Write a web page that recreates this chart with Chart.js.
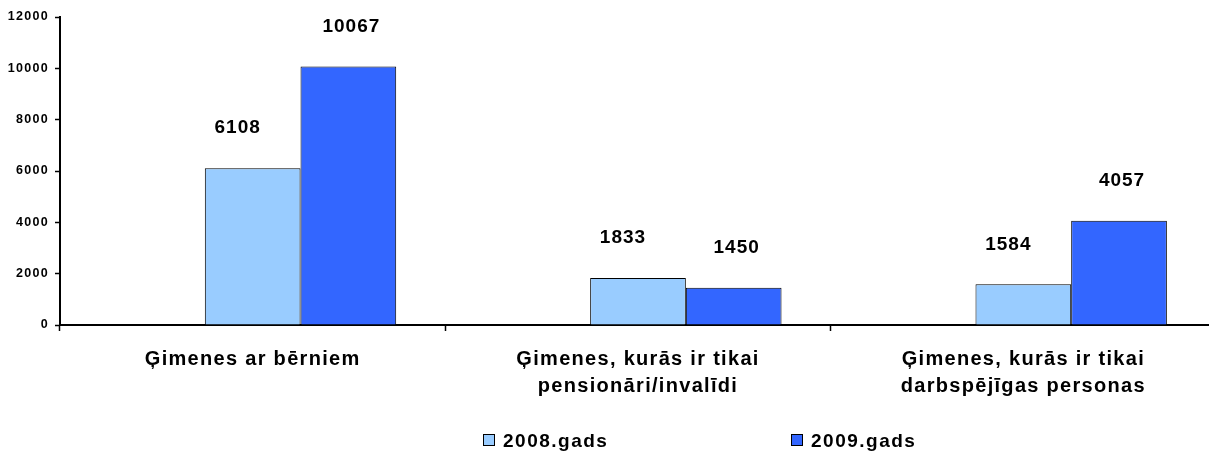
<!DOCTYPE html>
<html>
<head>
<meta charset="utf-8">
<script src="https://cdn.jsdelivr.net/npm/chart.js@4/dist/chart.umd.min.js"></script>
<style>
    html, body { margin: 0; padding: 0; background: #fff; overflow: hidden; }
    #wrap { position: absolute; left: 0; top: 0; width: 1222px; height: 454px; }
    .legend { position: absolute; top: 430px; font: bold 19px 'Liberation Sans', Arial, sans-serif; letter-spacing: 1.5px; color: #000; white-space: nowrap; }
    .legend span.box { display: inline-block; width: 10px; height: 10px; border: 1px solid #000; margin-right: 8px; vertical-align: 1px; }
</style>
</head>
<body>
<div id="wrap"><canvas id="chart"></canvas></div>
<div class="legend" style="left:483px"><span class="box" style="background:#99CCFF"></span>2008.gads</div>
<div class="legend" style="left:791px"><span class="box" style="background:#3366FF"></span>2009.gads</div>
<script>
// data dari gambar
const categories = [
    "Ģimenes ar bērniem",
    ["Ģimenes, kurās ir tikai", "pensionāri/invalīdi"],
    ["Ģimenes, kurās ir tikai", "darbspējīgas personas"],
];
const seriesNames = ["2008.gads", "2009.gads"];
const values2008 = [6108, 1833, 1584];
const values2009 = [10067, 1450, 4057];
const emptySlot = [null, null, null]; // Excel atstāj tukšu vietu pa kreisi
const yTicks = [0, 2000, 4000, 6000, 8000, 10000, 12000];

const SPACING = "1.3px";

// teksta atstarpes kā Excel attēlā
const spacingPlugin = {
    id: "spacing",
    beforeLayout(chart) { chart.ctx.letterSpacing = SPACING; },
    beforeDraw(chart) { chart.ctx.letterSpacing = SPACING; },
};

// vērtības virs stabiņiem
const valueLabels = {
    id: "valueLabels",
    afterDatasetsDraw(chart) {
        const ctx = chart.ctx;
        ctx.save();
        ctx.letterSpacing = "1px";
        ctx.font = "bold 19px 'Liberation Sans', Arial, sans-serif";
        ctx.fillStyle = "#000";
        ctx.textAlign = "center";
        ctx.textBaseline = "middle";
        chart.data.datasets.forEach((ds, i) => {
            if (!ds.showValues) return;
            chart.getDatasetMeta(i).data.forEach((bar, j) => {
                const v = ds.data[j];
                if (v == null) return;
                ctx.fillText(String(v), bar.x + ds.labelShift, bar.y - 40);
            });
        });
        ctx.restore();
    },
};

Chart.defaults.font.family = "'Liberation Sans', Arial, sans-serif";
Chart.defaults.color = "#000";

const ctx = document.getElementById("chart").getContext("2d");
new Chart(ctx, {
    type: "bar",
    data: {
        labels: categories,
        datasets: [
            { label: "", data: emptySlot, backgroundColor: "transparent" },
            {
                label: seriesNames[0],
                data: values2008,
                backgroundColor: "#99CCFF",
                borderColor: "#000",
                borderWidth: 1,
                showValues: true,
                labelShift: -15,
            },
            {
                label: seriesNames[1],
                data: values2009,
                backgroundColor: "#3366FF",
                borderColor: "#000",
                borderWidth: 1,
                showValues: true,
                labelShift: 3,
            },
        ],
    },
    options: {
        responsive: true,
        maintainAspectRatio: false,
        animation: false,
        categoryPercentage: 0.745,
        barPercentage: 1,
        layout: { padding: { top: 17, right: 6, bottom: 0, left: 0 } },
        plugins: {
            legend: { display: false },
            tooltip: { enabled: false },
        },
        scales: {
            x: {
                offset: true,
                grid: {
                    offset: true,
                    drawOnChartArea: false,
                    tickLength: 6,
                    tickWidth: 1.5,
                    tickColor: "#000",
                },
                border: { color: "#000", width: 2 },
                ticks: {
                    maxRotation: 0,
                    padding: 15,
                    font: { size: 20, weight: "bold", lineHeight: 1.35 },
                },
                afterFit(scale) { scale.height = 129; },
            },
            y: {
                min: 0,
                max: 12000,
                afterBuildTicks(scale) { scale.ticks = yTicks.map((v) => ({ value: v })); },
                grid: {
                    drawOnChartArea: false,
                    tickLength: 5,
                    tickWidth: 1.5,
                    tickColor: "#000",
                },
                border: { color: "#000", width: 2 },
                ticks: {
                    padding: 6,
                    font: { size: 12.5, weight: "bold" },
                    callback: (v) => String(v),
                },
                afterFit(scale) { scale.width = 60; },
            },
        },
    },
    plugins: [spacingPlugin, valueLabels],
});
</script>
</body>
</html>
